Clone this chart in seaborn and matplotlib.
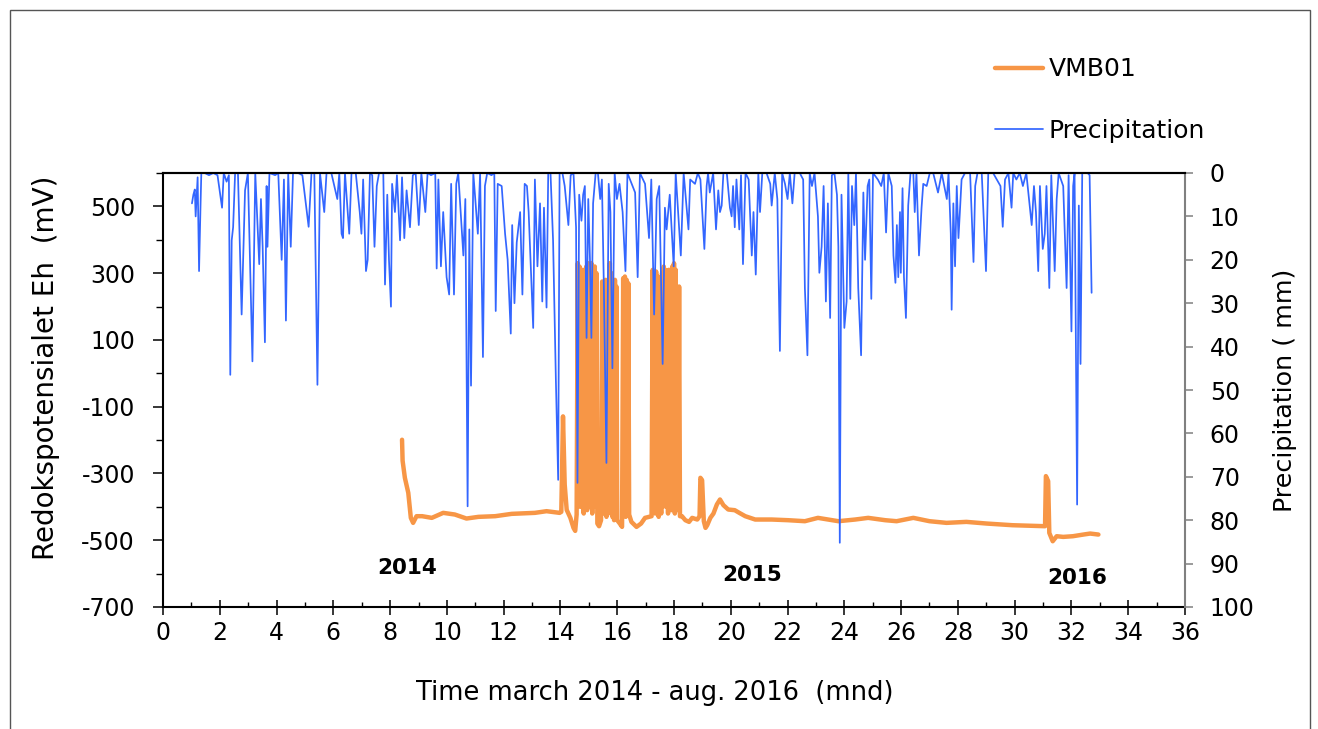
import matplotlib
matplotlib.use("Agg")
import matplotlib.pyplot as plt
import seaborn as sns
from matplotlib.patches import Rectangle
from matplotlib.ticker import MultipleLocator

# Redox potential VMB01 (month, mV)
eh_month = [
    8.42, 8.44, 8.52, 8.64, 8.73, 8.81, 8.93, 9.13, 9.47, 9.87, 10.28, 10.69,
    11.11, 11.70, 12.28, 13.10, 13.51, 13.97, 14.03, 14.09, 14.15, 14.22, 14.35, 14.46,
    14.52, 14.57, 14.61, 14.64, 14.67, 14.70, 14.73, 14.76, 14.79, 14.82, 14.85, 14.88,
    14.91, 14.94, 14.97, 15.00, 15.03, 15.06, 15.09, 15.12, 15.15, 15.18, 15.21, 15.24,
    15.27, 15.30, 15.36, 15.43, 15.47, 15.50, 15.53, 15.56, 15.59, 15.62, 15.65, 15.68,
    15.74, 15.77, 15.80, 15.83, 15.86, 15.89, 15.92, 15.95, 15.97, 16.00, 16.09, 16.17,
    16.21, 16.24, 16.27, 16.30, 16.33, 16.36, 16.39, 16.42, 16.50, 16.62, 16.68, 16.84,
    16.98, 17.21, 17.25, 17.28, 17.31, 17.34, 17.37, 17.40, 17.43, 17.46, 17.51, 17.55,
    17.58, 17.61, 17.64, 17.67, 17.70, 17.73, 17.76, 17.79, 17.82, 17.85, 17.88, 17.91,
    17.94, 17.97, 18.00, 18.03, 18.06, 18.09, 18.12, 18.15, 18.18, 18.21, 18.28, 18.40,
    18.53, 18.64, 18.82, 18.90, 18.93, 18.99, 19.05, 19.11, 19.17, 19.28, 19.39, 19.51,
    19.62, 19.74, 19.91, 20.14, 20.30, 20.51, 20.86, 21.44, 22.02, 22.61, 23.07, 23.79,
    24.38, 24.84, 25.44, 25.84, 26.43, 27.00, 27.60, 28.30, 29.01, 29.92, 31.07, 31.10,
    31.18, 31.22, 31.34, 31.48, 31.71, 32.05, 32.42, 32.66, 32.95,
]
eh_mv = [
    -199, -262, -313, -358, -433, -448, -428, -428, -433, -418, -423, -435,
    -430, -428, -421, -418, -413, -418, -415, -129, -333, -409, -433, -463,
    -472, -423, 330, -300, 320, -400, 300, -380, 310, -420, 305, -400,
    320, -410, 330, -380, 310, -400, 330, -420, 300, -400, 320, -380,
    300, -450, -458, -440, 275, -420, 270, -400, 280, -430, 260, -400,
    330, -420, 300, -430, 275, -440, 280, -420, 260, -440, -450, -460,
    285, -420, 290, -430, 280, -420, 270, -423, -445, -455, -460, -450,
    -433, -428, 310, -400, 300, -420, 305, -400, 290, -430, -330, -420,
    300, -400, 320, -390, 310, -400, 300, -420, 310, -400, 300, -410,
    320, -400, 330, -420, 310, -400, 250, -410, 260, -428, -428, -440,
    -445, -433, -438, -428, -313, -320, -443, -463, -455, -433, -420, -393,
    -378, -395, -408, -410, -418, -428, -438, -438, -440, -443, -433, -443,
    -438, -433, -440, -443, -433, -443, -448, -445, -450, -455, -458, -308,
    -323, -478, -503, -488, -490, -488, -483, -480, -483,
]

# Precipitation (month, mm)
precip_month = [
    1.02, 1.07, 1.12, 1.15, 1.22, 1.27, 1.32, 1.35, 1.47, 1.62, 1.77, 1.92,
    2.08, 2.14, 2.24, 2.32, 2.37, 2.42, 2.47, 2.54, 2.64, 2.77, 2.89, 2.99,
    3.15, 3.25, 3.39, 3.45, 3.51, 3.59, 3.65, 3.68, 3.75, 3.95, 4.06, 4.18,
    4.26, 4.33, 4.41, 4.50, 4.58, 4.76, 4.91, 5.13, 5.23, 5.33, 5.44, 5.53,
    5.68, 5.76, 5.93, 6.14, 6.21, 6.29, 6.34, 6.41, 6.56, 6.64, 6.79, 6.93,
    6.99, 7.05, 7.15, 7.21, 7.29, 7.37, 7.45, 7.53, 7.61, 7.76, 7.82, 7.90,
    7.96, 8.03, 8.07, 8.17, 8.24, 8.35, 8.42, 8.50, 8.58, 8.70, 8.80, 8.90,
    9.01, 9.10, 9.24, 9.32, 9.44, 9.59, 9.64, 9.70, 9.79, 9.87, 9.99, 10.08,
    10.15, 10.25, 10.33, 10.40, 10.58, 10.65, 10.73, 10.79, 10.85, 10.93, 11.00, 11.09,
    11.17, 11.27, 11.34, 11.42, 11.57, 11.67, 11.72, 11.79, 11.93, 12.05, 12.14, 12.25,
    12.30, 12.38, 12.46, 12.58, 12.66, 12.74, 12.82, 12.88, 13.04, 13.10, 13.19, 13.28,
    13.36, 13.42, 13.51, 13.57, 13.65, 13.74, 13.84, 13.92, 13.97, 14.07, 14.15, 14.28,
    14.36, 14.46, 14.55, 14.60, 14.66, 14.74, 14.80, 14.86, 14.92, 14.98, 15.04, 15.09,
    15.15, 15.24, 15.32, 15.40, 15.46, 15.53, 15.62, 15.70, 15.76, 15.83, 15.91, 15.99,
    16.08, 16.19, 16.29, 16.36, 16.45, 16.51, 16.63, 16.72, 16.80, 16.98, 17.12, 17.20,
    17.30, 17.39, 17.48, 17.60, 17.68, 17.74, 17.85, 17.99, 18.06, 18.24, 18.34, 18.51,
    18.57, 18.74, 18.84, 18.93, 19.07, 19.15, 19.20, 19.26, 19.38, 19.48, 19.56, 19.62,
    19.68, 19.74, 19.86, 19.97, 20.03, 20.08, 20.14, 20.20, 20.30, 20.36, 20.43, 20.52,
    20.63, 20.74, 20.80, 20.88, 20.97, 21.03, 21.11, 21.26, 21.39, 21.44, 21.55, 21.64,
    21.73, 21.81, 21.91, 22.00, 22.08, 22.17, 22.25, 22.43, 22.55, 22.61, 22.70, 22.78,
    22.86, 22.95, 23.07, 23.12, 23.20, 23.27, 23.35, 23.42, 23.50, 23.56, 23.65, 23.74,
    23.79, 23.84, 23.90, 24.00, 24.08, 24.14, 24.21, 24.27, 24.35, 24.41, 24.49, 24.59,
    24.67, 24.73, 24.82, 24.88, 24.95, 25.01, 25.18, 25.30, 25.39, 25.47, 25.55, 25.67,
    25.73, 25.80, 25.85, 25.90, 25.96, 25.99, 26.05, 26.10, 26.17, 26.25, 26.33, 26.43,
    26.48, 26.54, 26.63, 26.72, 26.78, 26.90, 27.01, 27.13, 27.30, 27.43, 27.61, 27.67,
    27.75, 27.78, 27.84, 27.90, 27.96, 28.02, 28.07, 28.13, 28.25, 28.43, 28.55, 28.61,
    28.69, 28.84, 28.99, 29.07, 29.24, 29.50, 29.58, 29.66, 29.78, 29.89, 29.95, 30.06,
    30.18, 30.29, 30.41, 30.60, 30.68, 30.75, 30.83, 30.89, 30.99, 31.06, 31.12, 31.22,
    31.29, 31.41, 31.48, 31.55, 31.71, 31.83, 31.90, 32.00, 32.06, 32.11, 32.20, 32.26,
    32.32, 32.38, 32.57, 32.64, 32.71,
]
precip_mm = [
    7, 5, 3.8, 10, 1, 22.6, 8, 0, 0, 0.5, 0, 0.5,
    8, 0, 2, 0.5, 46.5, 15.5, 12.5, 0, 0, 32.6, 4, 0,
    43.4, 0, 21, 6, 17, 39, 3, 17, 0, 0.5, 0, 20,
    1.5, 34, 0, 17, 0, 0, 0.5, 12.4, 0, 0, 48.8, 0,
    9, 0, 0, 6, 0, 14, 15, 0, 14, 0, 0, 9,
    14, 1.5, 22.6, 20, 0, 0.5, 17, 3, 0, 0, 25.7, 5,
    20, 30.8, 2.5, 9, 0.5, 15.5, 1, 15, 4, 12.5, 0.5, 0,
    12, 0, 9, 0, 0.5, 0, 22, 1.5, 21.5, 9, 24, 28,
    2.5, 28, 2.5, 0, 19, 6, 76.8, 13, 49, 0, 6, 14,
    0, 42.4, 3, 0, 0.5, 0, 31.8, 2.5, 3, 14, 20, 37,
    12, 30, 16, 9, 28, 2.5, 3, 9, 35.7, 1.5, 21.5, 7,
    29.6, 8, 31, 0, 0, 15.5, 48, 70.7, 0, 0, 3, 12,
    0.5, 0, 12.5, 71.4, 5, 11, 5, 3, 38, 6, 20, 38,
    7, 0, 0, 6, 1.5, 26.5, 66.8, 2.5, 9, 45, 0, 6,
    2.5, 9, 22.6, 0, 1.5, 2.5, 4.5, 24, 0, 2.5, 15, 1.5,
    32.6, 6, 3, 44, 8, 13, 5, 21.5, 0, 19, 0, 13,
    1.5, 2.5, 0, 1.5, 17.5, 3, 0, 4.5, 0, 13, 4, 9,
    7.5, 0, 0, 8, 10, 3, 12.5, 1.5, 13, 0.5, 21, 0,
    1.5, 19, 9, 23.4, 0, 9, 0, 0, 2.5, 7.5, 0, 6,
    41, 0, 2.5, 6, 0, 7, 0, 0, 1.5, 26.5, 42, 0,
    3, 0, 10, 23, 17, 3, 29.6, 7, 33.4, 0.5, 0, 5,
    17, 85.2, 5, 35.7, 29.6, 0, 29, 3, 12, 0, 26.5, 42,
    4.5, 20, 3, 1.5, 29, 0, 1.5, 3, 0, 13.7, 0, 3,
    19, 25.3, 12, 24, 9, 23, 3.5, 24, 33.4, 7.5, 0, 0,
    9, 0, 19, 8, 2.5, 3, 0, 0, 4.5, 0, 6, 0,
    14, 31.5, 7, 21.5, 3, 15, 9, 1.5, 0, 0, 20.5, 3,
    0, 0, 22.6, 0, 0, 3, 12.4, 1.5, 0, 8, 0, 1.5,
    0, 3, 0, 12, 3, 9, 22.6, 3, 17.5, 14, 3, 26.5,
    0.5, 22.6, 6, 0, 3, 26.5, 0.5, 36.5, 3, 0, 76.4, 7.5,
    44, 0, 0, 0.5, 27.6,
]

year_labels = ["2014", "2015", "2016"]
year_month = [8.59, 20.75, 32.19]
year_mv = [-583, -604, -613]

orange = "#F79646"
blue = "#3366FF"

sns.set_theme(style="ticks")
plt.rcParams['font.family'] = ['DejaVu Sans']
plt.rcParams['axes.unicode_minus'] = False
plt.rcParams['path.simplify'] = False
for key in ['text.color', 'axes.labelcolor', 'xtick.color', 'ytick.color']:
    plt.rcParams[key] = 'black'

fig = plt.figure(figsize=(13.18, 7.29), dpi=100)
ax = fig.add_axes([163 / 1318, 1 - 607 / 729, 1022 / 1318, 434 / 729])
ax2 = ax.twinx()

sns.lineplot(x=eh_month, y=eh_mv, ax=ax, color=orange, linewidth=3.2,
             estimator=None, sort=False, legend=False)
sns.lineplot(x=precip_month, y=precip_mm, ax=ax2, color=blue, linewidth=1.25,
             estimator=None, sort=False, legend=False)

# left axis: redox potential
ax.set_xlim(0, 36)
ax.set_ylim(-700, 600)
ax.set_xticks(range(0, 37, 2))
ax.xaxis.set_minor_locator(MultipleLocator(1))
ax.set_yticks(range(-700, 501, 200))
ax.yaxis.set_minor_locator(MultipleLocator(100))
ax.tick_params(axis='y', which='major', direction='out', length=7.2, width=1.1,
               labelsize=17, pad=13, color='black')
ax.tick_params(axis='y', which='minor', direction='out', length=5, width=1.0,
               color='black')
ax.tick_params(axis='x', which='major', direction='inout', length=10.8, width=1.1,
               labelsize=17, pad=5, color='black')
ax.tick_params(axis='x', which='minor', direction='in', length=3.6, width=1.0,
               color='black')
for side in ['left', 'bottom', 'top']:
    ax.spines[side].set_color('black')
    ax.spines[side].set_linewidth(1.5)
ax.spines['right'].set_visible(False)

ax.set_ylabel("Redokspotensialet Eh  (mV)", fontsize=20)
ax.yaxis.set_label_coords(-0.101, 0.55)
ax.set_xlabel("Time march 2014 - aug. 2016  (mnd)", fontsize=18.5)
ax.xaxis.set_label_coords(0.481, -0.168)

# right axis: precipitation, inverted
ax2.set_ylim(100, 0)
ax2.set_yticks(range(0, 101, 10))
ax2.tick_params(axis='y', which='major', direction='out', length=5.8, width=1.1,
                labelsize=17, pad=12, color='#808080', labelcolor='black')
ax2.spines['left'].set_visible(False)
ax2.spines['bottom'].set_visible(False)
ax2.spines['top'].set_color('black')
ax2.spines['top'].set_linewidth(1.5)
ax2.spines['right'].set_color('#808080')
ax2.spines['right'].set_linewidth(1.5)
ax2.set_ylabel("Precipitation ( mm)", fontsize=18.3)
ax2.yaxis.set_label_coords(1.086, 0.5)

for label, xm, yv in zip(year_labels, year_month, year_mv):
    ax.text(xm, yv, label, fontsize=15.5, fontweight='bold',
            ha='center', va='center')

handles = [ax.get_lines()[0], ax2.get_lines()[0]]
fig.legend(handles, ["VMB01", "Precipitation"], loc='center left',
           bbox_to_anchor=(995 / 1318, 1 - 100 / 729), frameon=False,
           fontsize=18, handlelength=1.9, handletextpad=0.25,
           labelspacing=1.5, borderpad=0, borderaxespad=0)

# thin frame around the chart area
fig.patches.append(Rectangle((10 / 1318, -0.02), 1300 / 1318, 1.02 - 10 / 729,
                             transform=fig.transFigure, fill=False,
                             edgecolor='#555555', linewidth=1))

fig.savefig("out.png", dpi=100)
